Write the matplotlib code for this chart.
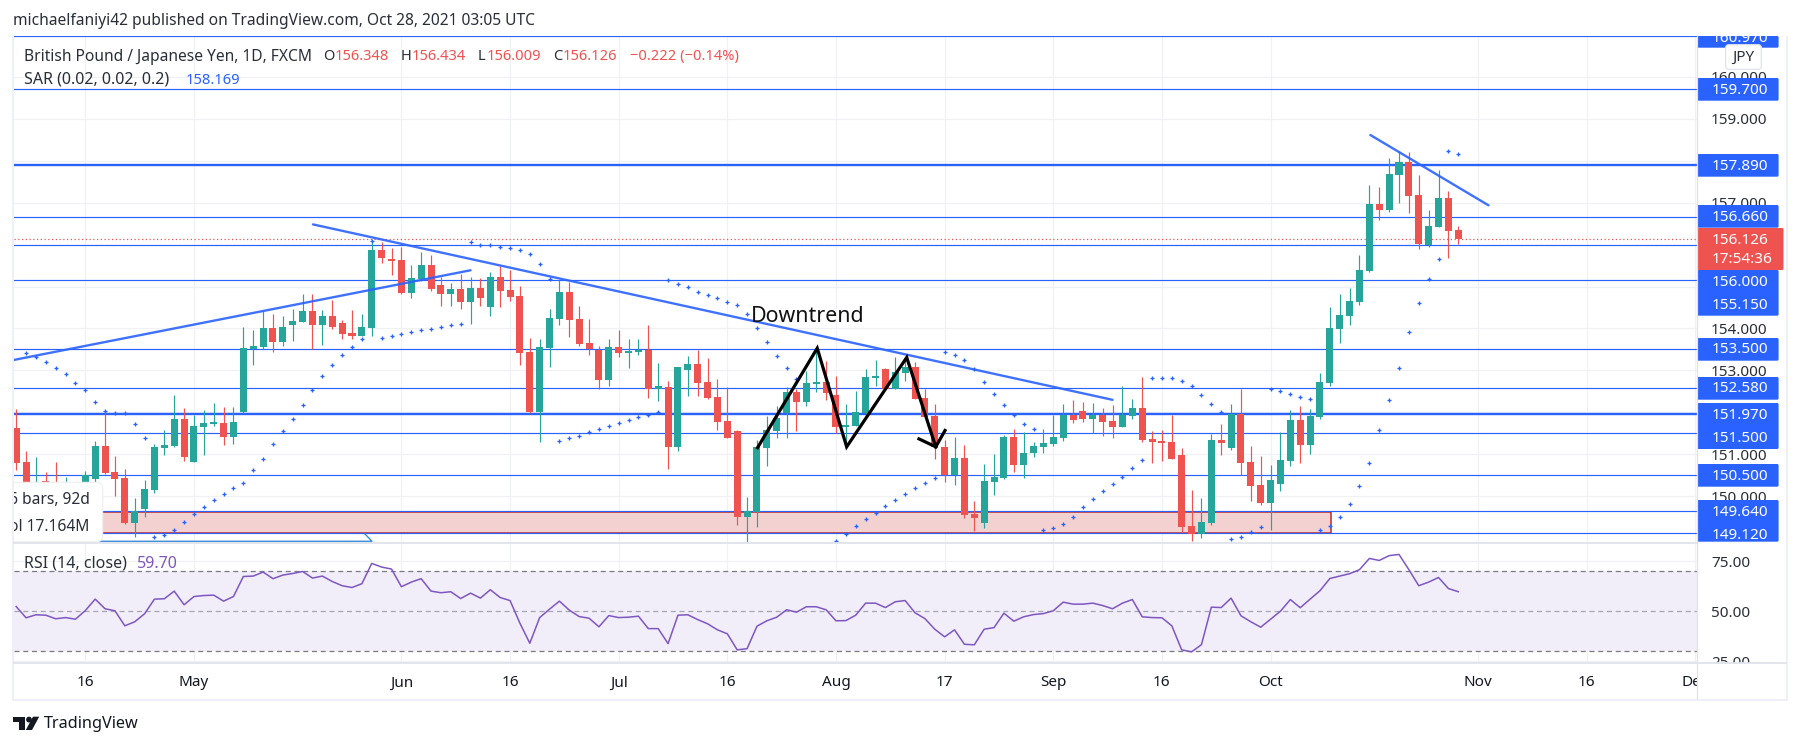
import numpy as np
import matplotlib
matplotlib.use("Agg")
import matplotlib.pyplot as plt
from matplotlib.patches import Rectangle, FancyBboxPatch, Polygon, Circle

plt.rcParams['font.family'] = ['Noto Sans', 'DejaVu Sans']

W, H = 1801, 747
GREEN, RED, BLUE, PURPLE = '#26a69a', '#ef5350', '#2962ff', '#7e57c2'
INK = '#2a2e39'
GRID = '#f0f1f4'

# Bars are trading days counted from 3 May 2021 (bar 0), first bar 2021-04-07 (-18)
bars = np.arange(-18, 129)

opens = [151.63,150.82,149.87,150.37,150.27,149.95,150.19,149.95,150.41,151.20,
         150.58,150.44,149.37,149.70,150.15,151.15,151.20,151.84,150.82,151.65,
         151.72,151.75,151.41,152.01,153.51,153.56,154.01,153.68,154.08,154.15,
         154.42,154.08,154.30,154.13,153.89,153.82,154.01,155.87,155.66,155.63,
         154.85,155.18,155.51,155.04,154.82,154.94,154.63,154.96,154.51,155.23,
         154.92,154.77,153.44,152.01,153.53,154.23,154.87,154.23,153.65,153.49,
         152.77,153.56,153.42,153.44,153.49,152.57,152.61,151.18,153.01,153.15,
         152.72,152.37,151.80,151.56,149.51,149.63,151.15,151.56,151.99,152.49,
         152.25,152.68,152.72,152.41,151.65,151.68,151.98,152.82,153.03,152.57,
         152.94,153.08,152.34,151.91,151.18,150.51,150.91,149.58,149.37,150.34,
         150.44,151.41,150.75,151.03,151.18,151.25,151.39,151.94,152.03,151.84,
         151.94,151.80,151.65,151.91,152.11,151.37,151.32,151.30,150.99,149.29,
         149.10,149.37,151.34,151.15,151.96,150.82,150.27,149.84,150.29,150.84,
         151.82,151.22,151.89,152.70,153.99,154.30,154.63,155.37,156.97,156.82,
         157.66,157.97,157.18,155.99,156.42,157.11,156.348]
closes = [150.79,150.19,150.31,150.31,149.95,150.19,149.91,150.50,151.20,150.56,
          150.41,149.37,149.64,150.18,151.18,151.22,151.84,150.94,151.68,151.75,
          151.75,151.41,151.77,153.53,153.58,154.01,153.68,154.04,154.18,154.42,
          154.08,154.30,154.04,153.87,153.82,154.04,155.87,155.68,155.61,154.85,
          155.20,155.51,154.94,154.82,154.94,154.63,154.96,154.73,155.23,154.89,
          154.75,153.42,152.01,153.56,154.25,154.87,154.20,153.63,153.50,152.77,
          153.56,153.42,153.46,153.49,152.57,152.61,151.18,153.08,153.15,152.70,
          152.34,151.77,151.39,149.51,149.65,151.18,151.58,151.87,152.49,152.25,
          152.70,152.72,152.46,151.65,151.70,152.01,152.84,152.87,152.57,152.96,
          153.08,152.32,151.89,151.18,150.51,150.91,149.56,149.48,150.37,150.46,
          151.41,150.75,151.03,151.20,151.27,151.41,151.94,151.82,151.84,151.94,
          151.77,151.65,151.94,152.11,151.34,151.30,151.27,150.89,149.27,149.10,
          149.39,151.34,151.27,151.96,150.79,150.25,149.84,150.39,150.87,151.82,
          151.22,151.91,152.72,154.01,154.32,154.65,155.39,156.97,156.82,157.68,
          157.97,157.16,156.01,156.44,157.11,156.32,156.126]
highs = [152.08,151.08,150.94,150.58,150.82,150.45,150.31,150.60,151.32,152.04,
         150.96,150.65,149.96,150.39,151.24,151.58,152.42,152.11,151.94,152.06,
         152.22,152.13,152.13,154.04,153.96,154.42,154.34,154.30,154.46,154.82,
         154.82,154.44,154.68,154.20,154.44,154.34,156.11,156.06,155.92,155.94,
         155.51,155.82,155.75,155.23,155.08,155.30,155.23,155.20,155.35,155.49,
         155.39,155.01,153.77,153.75,154.46,155.15,155.11,154.54,154.23,153.58,
         153.75,153.96,153.75,153.75,154.08,153.18,152.75,153.08,153.34,153.49,
         153.30,152.80,152.61,151.58,149.98,151.34,151.91,152.15,152.61,152.57,
         152.99,153.53,153.23,152.87,152.20,152.51,153.03,153.25,153.05,153.32,
         153.32,153.20,152.56,152.20,151.34,151.41,151.22,149.89,150.77,151.01,
         151.46,151.61,151.53,151.30,151.61,151.94,152.20,152.30,152.25,152.22,
         152.11,152.18,152.63,152.32,152.84,151.56,151.58,151.94,151.15,150.15,
         149.96,151.49,151.72,152.20,152.56,151.20,150.96,150.75,151.53,152.06,
         152.15,152.08,152.94,154.51,154.82,154.96,155.75,157.42,157.37,158.06,
         158.23,158.20,157.66,156.82,157.78,157.28,156.434]
lows = [150.63,149.95,149.64,149.95,149.83,149.75,149.75,149.71,150.35,150.53,
        150.01,149.35,149.03,149.51,150.08,150.99,151.18,150.84,150.82,150.99,
        151.68,151.22,151.25,151.99,153.13,153.51,153.44,153.58,153.70,154.15,
        153.50,153.61,153.99,153.75,153.75,153.82,153.82,155.56,155.27,154.82,
        154.73,155.13,154.89,154.54,154.54,154.46,154.11,154.54,154.30,154.51,
        154.65,153.13,151.99,151.30,153.08,154.08,153.80,153.58,153.37,152.57,
        152.63,153.32,153.06,153.37,152.34,152.27,150.65,151.08,152.39,152.39,
        152.32,151.58,151.39,149.32,148.91,149.27,150.72,151.39,151.39,151.56,
        152.15,152.49,152.30,151.51,151.22,151.68,151.94,152.63,152.57,152.57,
        152.75,152.32,151.89,150.89,150.34,150.27,149.48,149.18,149.25,150.03,
        150.41,150.58,150.44,150.94,151.03,151.20,151.32,151.75,151.77,151.51,
        151.44,151.39,151.65,151.84,151.30,150.79,150.84,150.89,149.15,148.94,
        149.01,149.32,150.99,151.10,150.51,149.89,149.79,149.20,150.13,150.72,
        150.79,151.01,151.84,152.63,153.65,154.08,154.56,155.35,156.58,156.78,
        156.99,156.75,155.89,155.94,156.42,155.68,156.009]
nan = float('nan')
sar = [nan,153.41,153.33,153.19,153.05,152.91,152.69,152.53,152.26,152.03,
       151.99,151.99,151.72,151.38,149.04,149.09,149.19,149.38,149.57,149.74,
       149.91,150.05,150.19,150.31,150.62,150.88,151.24,151.55,151.84,152.17,
       152.53,152.86,153.12,153.36,153.57,153.74,156.08,153.77,153.81,153.86,
       153.91,153.96,153.98,154.03,154.08,154.10,156.05,156.00,155.98,155.93,
       155.91,155.86,155.77,155.53,155.19,151.31,151.38,151.45,151.53,151.60,
       151.67,151.74,151.81,151.88,151.95,152.00,155.15,155.05,154.98,154.88,
       154.79,154.72,154.62,154.55,154.34,154.00,153.67,153.34,153.05,152.79,
       nan,nan,nan,148.94,149.10,149.29,149.45,149.60,149.76,149.91,
       150.05,150.19,150.31,150.43,153.43,153.38,153.24,153.03,152.72,152.43,
       152.17,151.93,151.72,151.60,149.19,149.24,149.33,149.50,149.74,149.93,
       150.12,150.29,150.45,150.67,150.86,152.83,152.83,152.81,152.76,152.62,
       152.41,152.19,152.00,148.98,149.03,149.16,149.28,152.57,152.50,152.43,
       152.36,152.31,149.21,149.29,149.50,149.83,150.24,150.79,151.57,152.29,
       153.07,153.91,154.60,155.17,155.65,158.22,158.15]
rsi = [52.3,46.7,48.2,48.0,46.2,46.8,46.0,50.3,56.0,51.2,
       50.2,42.7,44.7,48.7,56.0,56.2,60.0,53.2,57.3,57.8,
       58.0,55.0,57.3,67.3,67.5,69.5,66.2,68.0,68.8,69.8,
       66.5,67.5,64.8,62.7,61.8,63.7,73.8,72.0,71.0,62.2,
       64.5,66.2,60.0,59.2,59.7,56.3,59.0,56.5,60.7,56.8,
       55.3,44.0,34.0,46.8,51.0,55.0,50.5,47.3,46.5,42.2,
       47.8,46.8,47.0,47.5,41.3,41.3,33.8,48.0,48.2,45.8,
       43.7,40.7,38.7,30.7,31.3,42.5,45.2,47.0,50.7,49.5,
       52.2,52.2,50.7,45.2,45.3,48.0,54.0,54.0,51.8,54.7,
       55.3,49.2,46.3,41.0,37.2,40.7,33.5,33.2,41.0,41.8,
       49.0,45.0,47.2,48.3,48.8,50.2,54.5,53.5,53.5,54.0,
       52.8,51.2,54.0,55.8,47.2,46.8,46.7,42.7,30.7,29.7,
       33.3,52.0,51.8,56.5,47.7,44.7,42.0,46.0,50.0,55.8,
       51.7,56.0,60.2,66.3,67.5,68.7,70.7,76.3,75.3,77.7,
       78.3,70.7,62.7,64.5,66.8,61.3,59.70]

levels = [160.97,159.70,157.89,156.66,156.00,155.15,153.50,152.58,151.97,151.50,150.50,149.64,149.12]
thick_levels = [157.89,151.97]
price_ticks = [150,151,152,153,154,155,156,157,158,159,160]
hidden_price_ticks = [152,155,156,158]
rsi_ticks = [25,50,75]
time_ticks = [-11,0,21,32,43,54,65,76,87,98,109,130,141,152]
time_labels = ['16','May','Jun','16','Jul','16','Aug','17','Sep','16','Oct','Nov','16','Dec']
time_bold = ['May','Jun','Jul','Aug','Sep','Oct','Nov','Dec']

trend_down = ([12.05,93.0],[156.48,152.30])
trend_up = ([-18.25,28.0],[153.25,155.387])
trend_top = ([119.1,131.06],[158.61,156.935])
zig_x = [57.06,63.1,66.08,72.16,75.1]
zig_y = [151.16,153.53,151.18,153.31,151.18]
arrow_x = [73.4,75.1,76.04]
arrow_y = [151.37,151.18,151.57]
zone_x = (-18.25,115.09)
zone_y = (149.134,149.62)
range_x = [-9.6,18.02,17.33]
range_y = [148.93,148.93,149.10]

# label stack: text, pixel centre
blue_boxes = [(36,47.7),(78,100.7),(154,176.7),(205,227.7),(270,315.7),(338,360.7),
              (377,399.7),(403,449),(464,486.7),(500,541.7)]
blue_labels = [('160.970',38),('159.700',90.3),('157.890',166),('156.660',217.3),('156.000',282.7),
               ('155.150',305.7),('153.500',349.5),('152.580',388.7),('151.970',415.3),
               ('151.500',438.3),('150.500',476.7),('149.640',512.7),('149.120',535.7)]

fig = plt.figure(figsize=(W/100, H/100), dpi=100, facecolor='white')

def px_axes(l, t, r, b, **kw):
    return fig.add_axes([l/W, 1-b/H, (r-l)/W, (b-t)/H], **kw)

def ftext(x, y, s, **kw):
    kw.setdefault('va', 'center')
    kw.setdefault('ha', 'left')
    return fig.text(x/W, 1-y/H, s, **kw)

L, R = 13.7, 1697.2
TOP, SEP, BOT, AXB = 36.0, 542.7, 663.3, 699.0
XLIM = (-18.25, 152.19)

# frame strips
fig.patches.append(Rectangle((12/W, 1-701/H), 1.7/W, 665/H, transform=fig.transFigure, fc='#eef0f7', ec='none'))
fig.patches.append(Rectangle((12/W, 1-701/H), 1776/W, 2/H, transform=fig.transFigure, fc='#eef0f7', ec='none'))
fig.patches.append(Rectangle((1786/W, 1-701/H), 2.2/W, 665/H, transform=fig.transFigure, fc='#eef0f7', ec='none'))

# ---------- price pane
ax = px_axes(L, TOP, R, SEP, zorder=1)
ax.set_xlim(*XLIM)
ax.set_ylim(148.896, 160.969)
for s in ax.spines.values():
    s.set_visible(False)
ax.set_xticks(time_ticks)
ax.set_xticklabels([])
ax.set_yticks(price_ticks)
ax.set_yticklabels(['' if t in hidden_price_ticks else f'{t:.3f}' for t in price_ticks], fontsize=11, color=INK)
ax.yaxis.tick_right()
ax.tick_params(length=0)
ax.tick_params(axis='y', pad=10)
ax.grid(True, color=GRID, lw=0.9, zorder=0)
ax.set_axisbelow(True)

ax.add_patch(Rectangle((zone_x[0], zone_y[0]), zone_x[1]-zone_x[0], zone_y[1]-zone_y[0],
                       fc='#f2d1d0', ec='#c62828', lw=1.1, zorder=1))
for lv in levels:
    ax.axhline(lv, color=BLUE, lw=1.7 if lv in thick_levels else 0.85, zorder=2)
ax.axhline(closes[-1], color=RED, lw=0.9, ls=(0, (1, 2)), zorder=2)

o, c, hi, lo = map(np.array, (opens, closes, highs, lows))
cols = [GREEN if cc >= oo else RED for oo, cc in zip(o, c)]
ax.vlines(bars, lo, hi, colors=cols, lw=0.85, zorder=3)
ax.bar(bars, np.maximum(np.abs(c-o), 0.05), bottom=np.minimum(o, c), width=0.71,
       color=cols, lw=0, zorder=3)
ax.plot(bars, sar, ls='none', marker='+', ms=3.4, mew=0.95, color=BLUE, zorder=4)

for xs, ys in (trend_down, trend_up, trend_top):
    ax.plot(xs, ys, color=BLUE, lw=1.7, alpha=0.9, zorder=5, solid_capstyle='round')
ax.plot(zig_x, zig_y, color='black', lw=2.3, zorder=6, solid_joinstyle='miter')
ax.plot(arrow_x, arrow_y, color='black', lw=2.3, zorder=6, solid_joinstyle='miter')
ax.plot(range_x, range_y, color='#3d8fd8', lw=1.0, zorder=6, clip_on=False)
ax.text(62.1, 154.28, 'Downtrend', ha='center', va='center', fontsize=15.4, color='#111111', zorder=7)

# tooltip
ax.add_patch(FancyBboxPatch((-24, 148.92), 14.76, 1.415, boxstyle='round,pad=0,rounding_size=0.6',
                            fc='white', ec='#eeeeee', lw=0.8, zorder=8, mutation_aspect=0.24))
ax.text(-10.58, 149.91, '6 bars, 92d', ha='right', va='center', fontsize=11.2, color=INK, zorder=9, clip_on=True)
ax.text(-10.58, 149.28, 'ol 17.164M', ha='right', va='center', fontsize=11.2, color=INK, zorder=9, clip_on=True)

# ---------- RSI pane
rx = px_axes(L, SEP, R, BOT, zorder=1)
rx.set_xlim(*XLIM)
rx.set_ylim(24.0, 84.15)
for s in rx.spines.values():
    s.set_visible(False)
rx.set_xticks(time_ticks)
rx.set_xticklabels([])
rx.set_yticks(rsi_ticks)
rx.set_yticklabels([f'{t:.2f}' for t in rsi_ticks], fontsize=11, color=INK)
rx.yaxis.tick_right()
rx.tick_params(length=0)
rx.tick_params(axis='y', pad=10)
rx.grid(True, color=GRID, lw=0.9)
rx.set_axisbelow(True)
rx.axhspan(30, 70, color='#f1edf9', lw=0, zorder=1)
rx.axhline(70, color='#787b86', lw=0.9, ls=(0, (4, 3)), zorder=2)
rx.axhline(50, color='#a5a7b0', lw=0.9, ls=(0, (4, 3)), zorder=2)
rx.axhline(30, color='#787b86', lw=0.9, ls=(0, (4, 3)), zorder=2)
rx.plot(bars, rsi, color=PURPLE, lw=1.1, zorder=3)

# ---------- time axis
tx = px_axes(L, BOT, R, AXB, zorder=3, facecolor='white')
tx.set_xlim(*XLIM)
tx.set_ylim(0, 1)
tx.set_xticks([])
tx.set_yticks([])
for s in tx.spines.values():
    s.set_visible(False)
for t, lab in zip(time_ticks, time_labels):
    tx.text(t, 0.45, lab, ha='center', va='center', fontsize=11, color='#131722',
            fontweight='bold' if lab in time_bold else 'normal', clip_on=True)

# ---------- right-hand label column (pixel coordinates)
cx = px_axes(R, BOT, 1786, AXB, zorder=3, facecolor='white')
cx.set_xticks([])
cx.set_yticks([])
for s in cx.spines.values():
    s.set_visible(False)

lx = px_axes(R, TOP, 1786, SEP, zorder=5)
lx.patch.set_alpha(0)
lx.set_xlim(R, 1786)
lx.set_ylim(SEP, TOP)
lx.axis('off')
for top, bot in blue_boxes:
    lx.add_patch(FancyBboxPatch((R, top), 1778.6-R, bot-top, boxstyle='round,pad=0,rounding_size=1.5',
                                fc=BLUE, ec='none', mutation_aspect=1))
lx.add_patch(FancyBboxPatch((R, 228), 1783.5-R, 42, boxstyle='round,pad=0,rounding_size=1.5',
                            fc=RED, ec='none'))
for s, y in blue_labels:
    lx.text(1711.2, y, s, color='white', fontsize=11, va='center', ha='left', clip_on=True)
lx.text(1711.2, 240.7, '156.126', color='white', fontsize=11, va='center', ha='left')
lx.text(1711.2, 259.3, '17:54:36', color='white', fontsize=11, va='center', ha='left')
lx.add_patch(FancyBboxPatch((1725.7, 44.7), 35.6, 24.6, boxstyle='round,pad=0,rounding_size=3',
                            fc='white', ec='#e0e3eb', lw=0.9))
lx.text(1743.5, 57, 'JPY', color=INK, fontsize=11, va='center', ha='center')

# ---------- separators
sep = fig.add_axes([0, 0, 1, 1], zorder=6)
sep.patch.set_alpha(0)
sep.set_xlim(0, W)
sep.set_ylim(H, 0)
sep.axis('off')
sep.plot([L, R], [SEP, SEP], color='#e0e3eb', lw=1.3)
sep.plot([L, 1786], [BOT, BOT], color='#e0e3eb', lw=1.3)
sep.plot([R, R], [TOP, AXB], color='#e0e3eb', lw=0.9)

# ---------- logo
sep.add_patch(Polygon([(12.6,716.7),(25,716.7),(25,730),(19,730),(19,722.3),(12.6,722.3)], fc='#131722', ec='none'))
sep.add_patch(Circle((29,719.6), 2.9, fc='#131722', ec='none'))
sep.add_patch(Polygon([(33,716.7),(39.2,716.7),(32,730),(25.8,730)], fc='#131722', ec='none'))

# ---------- texts
ftext(13.4, 20.7, 'michaelfaniyi42 published on TradingView.com, Oct 28, 2021 03:05 UTC', fontsize=11.2, color=INK, zorder=10)
ftext(24, 56.7, 'British Pound / Japanese Yen, 1D, FXCM', fontsize=11.2, color=INK, zorder=10)
for x, s, col in [(323,'O',INK),(335,'156.348',RED),(400.7,'H',INK),(411.4,'156.434',RED),
                  (478,'L',INK),(486.8,'156.009',RED),(553,'C',INK),(563,'156.126',RED),
                  (629.5,'\u22120.222 (\u22120.14%)',RED)]:
    ftext(x, 56.7, s, fontsize=10.6, color=col, zorder=10)
ftext(24, 80, 'SAR (0.02, 0.02, 0.2)', fontsize=11.5, color=INK, zorder=10)
ftext(185.6, 80, '158.169', fontsize=10.6, color=BLUE, zorder=10)
ftext(24, 564, 'RSI (14, close)', fontsize=11.5, color=INK, zorder=10)
ftext(136.6, 564, '59.70', fontsize=11.5, color=PURPLE, zorder=10)
ftext(44, 724, 'TradingView', fontsize=11.7, color='#131722', zorder=10)

fig.savefig('out.png', dpi=100, facecolor='white')
